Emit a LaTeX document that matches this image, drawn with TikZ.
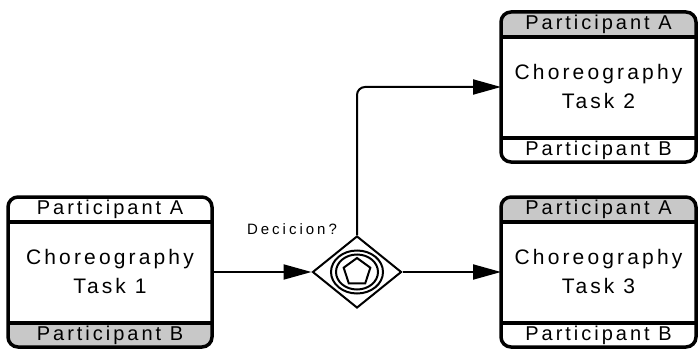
\documentclass[tikz,border=0pt]{standalone}
\usepackage{fontspec}
\setmainfont{Liberation Sans}
\newfontfamily\spc[LetterSpace=15]{Liberation Sans}
\newfontfamily\spcw[LetterSpace=20]{Liberation Sans}
\usetikzlibrary{shapes.geometric,arrows.meta}
\definecolor{band}{RGB}{200,200,200}
\tikzset{
  taskbox/.style={rectangle, fill=white, minimum height=150pt, inner sep=0pt, outer sep=0pt},
  border/.style={line width=3.5pt, rounded corners=10pt},
  sep/.style={line width=3.5pt},
  ptext/.style={font=\spc\fontsize{20}{22}\selectfont, inner sep=0pt},
  ctext/.style={font=\spc\fontsize{21}{29}\selectfont, align=center, inner sep=0pt},
  conn/.style={line width=2pt, -{Triangle[length=28pt,width=15pt]}},
  gwshape/.style={diamond, draw, line width=2pt, fill=white, minimum width=89pt, minimum height=72pt, inner sep=0pt},
  ring/.style={ellipse, draw, line width=2pt, inner sep=0pt},
  penta/.style={regular polygon, regular polygon sides=5, draw, line width=2pt, minimum size=28pt, inner sep=0pt},
  lbl/.style={font=\spcw\fontsize{15}{17}\selectfont, inner sep=0pt}
}
\newcommand\chor[7]{%
  \node[taskbox, minimum width=#4pt] (#1) at (#2,#3) {};
  \begin{scope}
    \clip[rounded corners=10pt] (#1.north west) rectangle (#1.south east);
    \fill[#5] (#1.north west) rectangle ([yshift=-25pt]#1.north east);
    \fill[#6] (#1.south west) rectangle ([yshift=24pt]#1.south east);
  \end{scope}
  \coordinate (#1hl) at ([yshift=-25pt]#1.north west);
  \coordinate (#1hr) at ([yshift=-25pt]#1.north east);
  \coordinate (#1fl) at ([yshift=24pt]#1.south west);
  \coordinate (#1fr) at ([yshift=24pt]#1.south east);
  \draw[sep] (#1hl) -- (#1hr);
  \draw[sep] (#1fl) -- (#1fr);
  \draw[border] (#1.north west) rectangle (#1.south east);
  \node[ptext] (#1a) at ([yshift=-12.5pt]#1.north) {Participant A};
  \node[ptext] (#1b) at ([yshift=12pt]#1.south) {Participant B};
  \node[ctext] (#1c) at ([yshift=0.5pt]#1.center) {Choreography\\Task #7};
}
\begin{document}
\begin{tikzpicture}[x=1pt,y=-1pt]
  \useasboundingbox (0,0) rectangle (700,350);
  \chor{t1}{110}{272}{204}{white}{band}{1}
  \chor{t2}{598.5}{87}{195}{band}{white}{2}
  \chor{t3}{598.5}{272}{195}{band}{white}{3}
  \node[gwshape] (gw) at (357,272) {};
  \node[ring, minimum width=52pt, minimum height=43pt] (r1) at (gw.center) {};
  \node[ring, minimum width=42pt, minimum height=35pt] (r2) at (gw.center) {};
  \node[penta] (pg) at (gw.center) {};
  \node[lbl] (dl) at (292,229) {Decicion?};
  \draw[conn] (t1.east) -- (gw.west);
  \draw[conn] (gw.east) -- (t3.west);
  \draw[conn, rounded corners=8pt] (gw.north) |- (t2.west);
\end{tikzpicture}
\end{document}
